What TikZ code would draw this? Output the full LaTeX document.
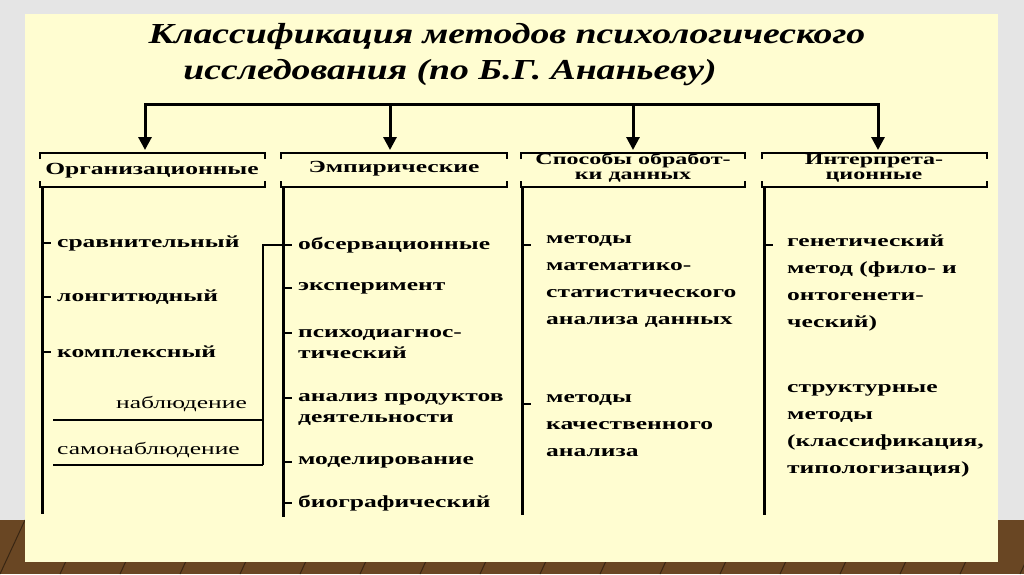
\documentclass[tikz,border=0pt]{standalone}
\usepackage{fontspec}
\setmainfont{Liberation Serif}
\newfontfamily\wide[FakeStretch=1.5]{Liberation Serif}
\newfontfamily\widt[FakeStretch=1.3]{Liberation Serif}
\usetikzlibrary{arrows.meta}
\begin{document}
\begin{tikzpicture}[x=1pt,y=-1pt,
  ln/.style={line width=3pt,black},
  thin/.style={line width=2pt,black},
  itm/.style={anchor=west,inner sep=0pt,font=\wide\fontsize{17}{27}\selectfont\bfseries,align=left},
  hdr/.style={inner sep=0pt,font=\wide\fontsize{16}{15}\selectfont\bfseries,align=center},
  plain/.style={inner sep=0pt,font=\wide\fontsize{17}{18}\selectfont}]
\useasboundingbox (0,0) rectangle (1024,574);
\fill[gray!20] (0,0) rectangle (1024,574);
\fill[brown!55!black] (0,520) rectangle (1024,574);
\foreach \i in {0,60,...,1020}{\draw[brown!30!black,line width=1pt] (\i,574) -- (\i+25,520);}
\fill[yellow!18!white] (25,14) rectangle (998,562);
% title
\node[font=\widt\fontsize{29}{34}\selectfont\bfseries\itshape] (t1) at (507,37) {Классификация методов психологического};
\node[font=\widt\fontsize{29}{34}\selectfont\bfseries\itshape] (t2) at (450,73) {исследования (по Б.Г. Ананьеву)};
% arrows
\coordinate (hl) at (145,104); \coordinate (hr) at (878,104);
\draw[ln] (hl) -- (hr);
\foreach \x in {145,390,633,878}{\draw[ln,-{Triangle[length=13pt,width=13pt]}] (\x,103) -- (\x,150);}
% header brackets
\foreach \a/\b in {40/265,281/507,521/745,762/987}{
  \draw[thin] (\a,159) -- (\a,153) -- (\b,153) -- (\b,159);
  \draw[thin] (\a,181) -- (\a,187) -- (\b,187) -- (\b,181);
}
\node[hdr,font=\wide\fontsize{17}{15}\selectfont\bfseries] (h1) at (152,171) {Организационные};
\node[hdr,font=\wide\fontsize{17}{15}\selectfont\bfseries] (h2) at (394,169) {Эмпирические};
\node[hdr] (h3) at (633,168) {Способы обработ-\\ки данных};
\node[hdr] (h4) at (874,168) {Интерпрета-\\ционные};
% column lines
\foreach \x/\e in {42/514,283/517,522/515,764/515}{\draw[ln] (\x,186) -- (\x,\e);}
% col1
\node[itm] (a1) at (57,243) {сравнительный};
\node[itm] (a2) at (57,297) {лонгитюдный};
\node[itm] (a3) at (57,352) {комплексный};
\foreach \y in {243,297,352}{\draw[thin] (42,\y) -- (51,\y);}
\node[plain,anchor=east] (a4) at (247,404) {наблюдение};
\node[plain,anchor=west] (a5) at (57,450) {самонаблюдение};
\draw[thin] (53,420) -- (263,420);
\draw[thin] (53,465) -- (263,465);
\draw[thin] (283,245) -- (263,245) -- (263,465);
% col2
\node[itm,font=\wide\fontsize{17}{21}\selectfont\bfseries] (b1) at (298,245) {обсервационные};
\node[itm,font=\wide\fontsize{17}{21}\selectfont\bfseries] (b2) at (298,288) {эксперимент};
\node[itm,font=\wide\fontsize{17}{21}\selectfont\bfseries] (b3) at (298,344) {психодиагнос-\\тический};
\node[itm,font=\wide\fontsize{17}{21}\selectfont\bfseries] (b4) at (298,409) {анализ продуктов\\деятельности};
\node[itm,font=\wide\fontsize{17}{21}\selectfont\bfseries] (b5) at (298,462) {моделирование};
\node[itm,font=\wide\fontsize{17}{21}\selectfont\bfseries] (b6) at (298,503) {биографический};
\foreach \y in {245,288,333,398,462,503}{\draw[thin] (283,\y) -- (292,\y);}
% col3
\node[itm,anchor=north west] (c1) at (546,235) {методы\\математико-\\статистического\\анализа данных};
\node[itm,anchor=north west] (c2) at (546,394) {методы\\качественного\\анализа};
\foreach \y in {245,404}{\draw[thin] (522,\y) -- (531,\y);}
% col4
\node[itm,anchor=north west] (d1) at (787,235) {генетический\\метод (фило- и\\онтогенети-\\ческий)};
\node[itm,anchor=north west] (d2) at (787,384) {структурные\\методы\\(классификация,\\типологизация)};
\draw[thin] (764,245) -- (773,245);
\end{tikzpicture}
\end{document}
